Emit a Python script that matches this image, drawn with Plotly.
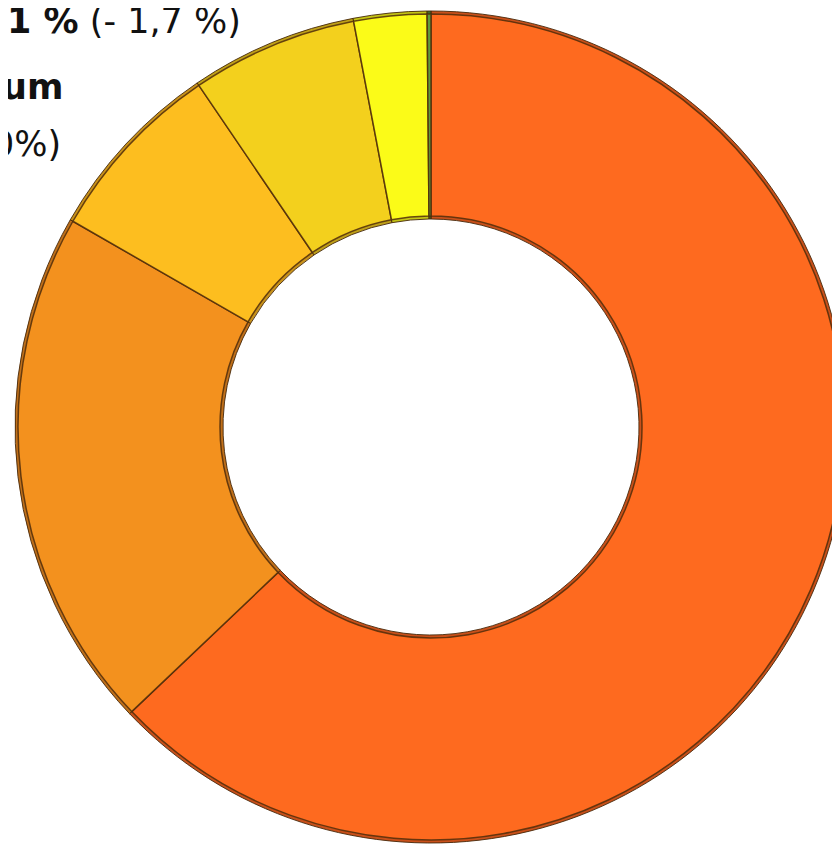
import plotly.graph_objects as go

# Data (clockwise from 12 o'clock)
categories = ["Segment A", "Segment B", "Segment C", "Segment D", "Segment E", "Segment F"]
values = [62.9, 20.4, 7.2, 6.5, 2.85, 0.15]
colors = ["#FE6A1F", "#F3911E", "#FDBE1F", "#F3D01D", "#FBFB18", "#5E9A3C"]
rim_colors = ["#C9501A", "#C0701A", "#C8921A", "#BFA018", "#C4C414", "#3E6E28"]

# Visible (cropped) label fragments
label_texts = ["<b>1 %</b> (- 1,7 %)", "<b>um</b>", "0%)"]
label_right = [235, 57, 55]
label_mid = [13, 79, 136]

W, H = 840, 845
cx, cy, R, r = 423, 419, 416, 208
rim = 3


def dom(rad):
    return dict(x=[(cx - rad) / W, (cx + rad) / W], y=[1 - (cy + rad) / H, 1 - (cy - rad) / H])


fig = go.Figure()
# darker rim underneath (bevel suggestion)
fig.add_trace(go.Pie(
    labels=categories, values=values, sort=False, direction="clockwise", rotation=0,
    hole=r / R, textinfo="none", hoverinfo="skip",
    marker=dict(colors=rim_colors, line=dict(color="rgba(70,40,10,0.9)", width=1)),
    domain=dom(R), showlegend=False,
))
# main faces
R2, r2 = R - rim, r + rim
fig.add_trace(go.Pie(
    labels=categories, values=values, sort=False, direction="clockwise", rotation=0,
    hole=r2 / R2, textinfo="none", hoverinfo="label+percent",
    marker=dict(colors=colors, line=dict(color="rgba(80,45,10,0.85)", width=1.5)),
    domain=dom(R2), showlegend=False,
))

for txt, xr, yc in zip(label_texts, label_right, label_mid):
    fig.add_annotation(
        text=txt, x=xr / W, y=1 - yc / H, xref="paper", yref="paper",
        xanchor="right", yanchor="middle", showarrow=False,
        font=dict(family="DejaVu Sans, Open Sans, Liberation Sans", size=35, color="#111111"),
    )

fig.update_layout(
    width=W, height=H,
    margin=dict(l=0, r=0, t=0, b=0),
    paper_bgcolor="white", plot_bgcolor="white",
)

fig.write_html("out.html")
